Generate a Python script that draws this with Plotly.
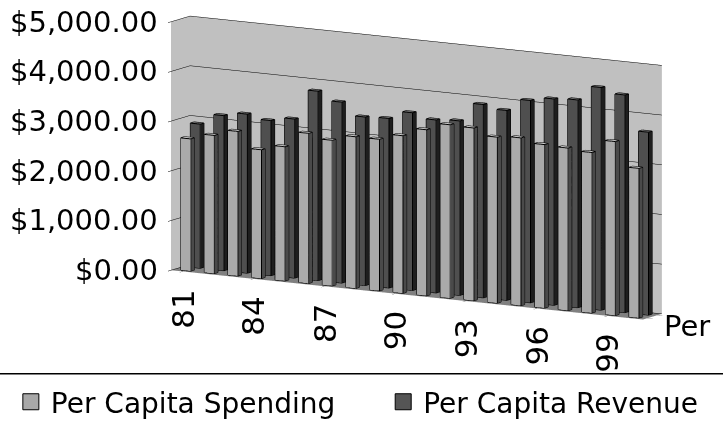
import plotly.graph_objects as go

# ---- data -------------------------------------------------------------
years = ["81", "82", "83", "84", "85", "86", "87", "88", "89", "90",
         "91", "92", "93", "94", "95", "96", "97", "98", "99", "00"]
spending = [2660, 2780, 2910, 2590, 2700, 3020, 2930, 3050, 3050, 3170,
            3340, 3490, 3475, 3340, 3375, 3290, 3270, 3230, 3500, 3010]
revenue = [2900, 3120, 3200, 3120, 3200, 3810, 3640, 3390, 3410, 3575,
           3480, 3510, 3890, 3820, 4070, 4150, 4180, 4480, 4380, 3680]
labeled_years = ["81", "84", "87", "90", "93", "96", "99"]
series_names = ["Per Capita Spending", "Per Capita Revenue"]
series_axis_label = "Per"
value_ticks = [0, 1000, 2000, 3000, 4000, 5000]

# ---- styling ------------------------------------------------------------
FONT = "DejaVu Sans"
BAR_W = 0.42          # column width (category units)
BAR_D = 0.38          # column depth (series units)
ROWS = [0.5, 1.5]     # depth position of each series
# face colours per series: front, right side, top
FACE = [
    {"front": "#aaaaaa", "side": "#4a4a4a", "top": "#cacaca", "legend": "#a8a8a8"},
    {"front": "#4f4f4f", "side": "#1e1e1e", "top": "#6e6e6e", "legend": "#555555"},
]

# view: rotated ~30 degrees, elevated ~10 degrees, look-at point offset
VIEW_DIR = (0.5, -0.847, 0.177)
LOOK_AT = (-0.238, -0.175, -0.099)
EYE = tuple(c + 1.47 * d for c, d in zip(LOOK_AT, VIEW_DIR))


def column_traces(values, row, style, name):
    xs, ys, zs, ii, jj, kk, fc = [], [], [], [], [], [], []
    ex, ey, ez = [], [], []
    for i, v in enumerate(values):
        x0, x1 = i - BAR_W / 2, i + BAR_W / 2
        y0, y1 = row - BAR_D / 2, row + BAR_D / 2
        base = len(xs)
        pts = [(x0, y0, 0), (x1, y0, 0), (x1, y1, 0), (x0, y1, 0),
               (x0, y0, v), (x1, y0, v), (x1, y1, v), (x0, y1, v)]
        for p in pts:
            xs.append(p[0]); ys.append(p[1]); zs.append(p[2])
        quads = [((0, 1, 5, 4), style["front"]),
                 ((1, 2, 6, 5), style["side"]),
                 ((4, 5, 6, 7), style["top"]),
                 ((3, 2, 6, 7), style["side"]),
                 ((0, 3, 7, 4), style["side"]),
                 ((0, 1, 2, 3), style["side"])]
        for (a, b, c, d), col in quads:
            for tri in ((a, b, c), (a, c, d)):
                ii.append(base + tri[0]); jj.append(base + tri[1]); kk.append(base + tri[2])
                fc.append(col)
        edges = [(0, 1), (1, 2), (2, 3), (3, 0), (4, 5), (5, 6), (6, 7), (7, 4),
                 (0, 4), (1, 5), (2, 6), (3, 7)]
        for a, b in edges:
            ex += [pts[a][0], pts[b][0], None]
            ey += [pts[a][1], pts[b][1], None]
            ez += [pts[a][2], pts[b][2], None]
    mesh = go.Mesh3d(x=xs, y=ys, z=zs, i=ii, j=jj, k=kk, facecolor=fc,
                     flatshading=True, name=name, showlegend=False, hoverinfo="skip",
                     lighting=dict(ambient=1.0, diffuse=0.0, specular=0.0,
                                   roughness=1.0, fresnel=0.0))
    outline = go.Scatter3d(x=ex, y=ey, z=ez, mode="lines", showlegend=False,
                           hoverinfo="skip", line=dict(color="#000000", width=2))
    return [mesh, outline]


fig = go.Figure()
for row, vals, style, name in zip(ROWS, [spending, revenue], FACE, series_names):
    for tr in column_traces(vals, row, style, name):
        fig.add_trace(tr)

# legend entries, one per legend box
for n, (style, name) in enumerate(zip(FACE, series_names)):
    fig.add_trace(go.Scatter(x=[None], y=[None], mode="markers", name=name,
                             legend="legend" if n == 0 else "legend2",
                             marker=dict(symbol="square", size=17, color=style["legend"],
                                         line=dict(color="#000000", width=1))))

tick_idx = [years.index(y) for y in labeled_years]

# text labels placed in scene coordinates
scene_notes = []
for v in value_ticks:
    scene_notes.append(dict(x=-0.5, y=0, z=v, text="${:,.2f}".format(v), showarrow=False,
                            xanchor="right", yanchor="middle", xshift=-11,
                            font=dict(family=FONT, size=29, color="#000000")))
for idx, lab in zip(tick_idx, labeled_years):
    scene_notes.append(dict(x=idx, y=0, z=0, text=lab, showarrow=False, textangle=-90,
                            xanchor="center", yanchor="top", yshift=-16,
                            font=dict(family=FONT, size=31, color="#000000")))
scene_notes.append(dict(x=len(years) - 0.5, y=ROWS[0], z=0, text=series_axis_label,
                        showarrow=False, xanchor="left", yanchor="middle", xshift=14,
                        yshift=-8, font=dict(family=FONT, size=29, color="#000000")))

axis_common = dict(showspikes=False, color="#000000", showticklabels=False,
                   title=dict(text=""), zeroline=False, showbackground=True,
                   ticks="outside", ticklen=6)

legend_common = dict(orientation="h", xanchor="left", y=0.045, yanchor="middle",
                     font=dict(family=FONT, size=28), itemclick=False,
                     bgcolor="rgba(0,0,0,0)")

fig.update_layout(
    width=723, height=421,
    margin=dict(l=0, r=0, t=0, b=0, autoexpand=False),
    paper_bgcolor="#ffffff", plot_bgcolor="#ffffff",
    font=dict(family=FONT, size=27, color="#000000"),
    xaxis=dict(visible=False), yaxis=dict(visible=False),
    scene=dict(
        domain=dict(x=[0, 1], y=[0.112, 1]),
        aspectmode="manual",
        aspectratio=dict(x=2.93, y=0.2, z=1.35),
        camera=dict(eye=dict(x=EYE[0], y=EYE[1], z=EYE[2]),
                    center=dict(x=LOOK_AT[0], y=LOOK_AT[1], z=LOOK_AT[2]),
                    up=dict(x=0, y=0, z=1),
                    projection=dict(type="orthographic")),
        xaxis=dict(range=[-0.5, len(years) - 0.5], tickvals=tick_idx, showgrid=False,
                   backgroundcolor="#c0c0c0", **axis_common),
        yaxis=dict(range=[0, 2], tickvals=ROWS, showgrid=False,
                   backgroundcolor="#c0c0c0", **axis_common),
        zaxis=dict(range=[0, 5000], tickvals=value_ticks, showgrid=True,
                   gridcolor="#000000", gridwidth=1, backgroundcolor="#808080",
                   **axis_common),
        annotations=scene_notes,
    ),
    legend=dict(x=0.015, **legend_common),
    legend2=dict(x=0.53, **legend_common),
    shapes=[dict(type="line", xref="paper", yref="paper", x0=0, x1=1, y0=0.112, y1=0.112,
                 line=dict(color="#000000", width=1.5))],
)

fig.write_html("out.html")
